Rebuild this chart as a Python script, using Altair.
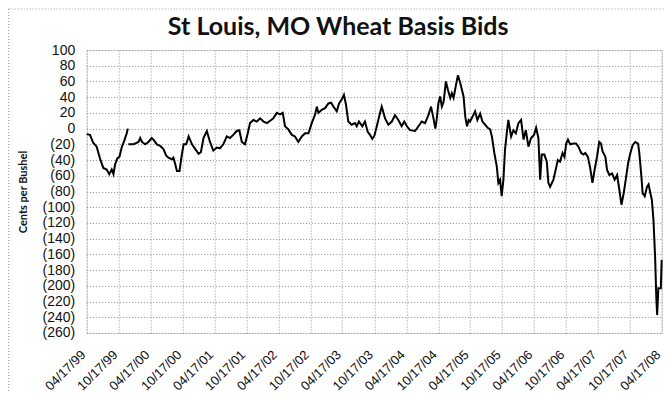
import altair as alt
import pandas as pd

# ---- data ----
seg1_dates = ["1999-04-17", "1999-05-06", "1999-05-24", "1999-06-13", "1999-07-02", "1999-07-21",
              "1999-08-09", "1999-08-24", "1999-09-07", "1999-09-17", "1999-09-26", "1999-10-09",
              "1999-10-21", "1999-11-03", "1999-11-17", "1999-12-02", "1999-12-08"]
seg1_values = [-7, -8, -18, -23, -38, -50, -52, -58, -52, -58, -46, -38, -36, -24, -16, -6, 0]

seg2_dates = [
    "1999-12-11", "2000-01-09", "2000-02-07", "2000-02-17", "2000-02-27", "2000-03-16", "2000-04-04",
    "2000-04-23", "2000-05-06", "2000-05-22", "2000-06-10", "2000-06-29", "2000-07-14", "2000-07-27",
    "2000-08-16", "2000-08-25", "2000-09-04", "2000-09-14", "2000-09-29", "2000-10-08", "2000-10-22",
    "2000-11-06", "2000-11-20", "2000-12-09", "2000-12-28", "2001-01-16", "2001-01-29", "2001-02-13",
    "2001-03-04", "2001-03-22", "2001-04-10", "2001-04-30", "2001-05-18", "2001-06-06", "2001-06-26",
    "2001-07-14", "2001-08-02", "2001-08-22", "2001-09-06", "2001-09-20", "2001-10-08", "2001-10-24",
    "2001-11-06", "2001-11-25", "2001-12-15", "2002-01-03", "2002-01-22", "2002-02-11", "2002-03-01",
    "2002-03-19", "2002-04-08", "2002-04-27", "2002-05-12", "2002-05-25", "2002-06-13", "2002-07-03",
    "2002-07-21", "2002-08-09", "2002-08-29", "2002-09-17", "2002-10-06", "2002-10-25", "2002-11-13",
    "2002-11-23", "2002-12-02", "2002-12-21", "2003-01-09", "2003-01-28", "2003-02-13", "2003-02-26",
    "2003-03-17", "2003-03-30", "2003-04-14", "2003-04-27", "2003-05-09", "2003-05-22", "2003-06-10",
    "2003-06-29", "2003-07-09", "2003-07-22", "2003-08-10", "2003-08-25", "2003-09-10", "2003-09-23",
    "2003-10-06", "2003-10-18", "2003-11-01", "2003-11-16", "2003-11-29", "2003-12-18", "2004-01-06",
    "2004-01-26", "2004-02-13", "2004-03-03", "2004-03-22", "2004-04-06", "2004-04-21", "2004-05-09",
    "2004-06-07", "2004-06-26", "2004-07-15", "2004-08-03", "2004-08-22", "2004-09-06", "2004-09-20",
    "2004-10-01", "2004-10-08", "2004-10-18", "2004-10-28", "2004-11-07", "2004-11-17", "2004-11-30",
    "2004-12-12", "2004-12-25", "2005-01-03", "2005-01-13", "2005-01-27", "2005-02-07", "2005-02-20",
    "2005-03-02", "2005-03-11", "2005-03-21", "2005-03-31", "2005-04-09", "2005-04-17", "2005-05-01",
    "2005-05-16", "2005-05-29", "2005-06-14", "2005-06-27", "2005-07-12", "2005-07-27", "2005-08-10",
    "2005-08-20", "2005-09-03", "2005-09-17", "2005-09-26", "2005-10-06", "2005-10-15", "2005-10-25",
    "2005-11-03", "2005-11-13", "2005-11-22", "2005-12-08", "2005-12-21", "2006-01-04", "2006-01-19",
    "2006-02-03", "2006-02-17", "2006-03-02", "2006-03-17", "2006-04-01", "2006-04-18", "2006-04-30",
    "2006-05-13", "2006-05-23", "2006-06-01", "2006-06-16", "2006-06-30", "2006-07-09", "2006-07-19",
    "2006-08-07", "2006-08-17", "2006-09-01", "2006-09-14", "2006-09-28", "2006-10-09", "2006-10-19",
    "2006-10-29", "2006-11-11", "2006-11-30", "2006-12-14", "2006-12-28", "2007-01-13", "2007-01-26",
    "2007-02-05", "2007-02-20", "2007-03-05", "2007-03-18", "2007-03-30", "2007-04-13", "2007-04-26",
    "2007-05-06", "2007-05-15", "2007-05-31", "2007-06-10", "2007-06-23", "2007-07-08", "2007-07-23",
    "2007-08-06", "2007-08-19", "2007-08-31", "2007-09-13", "2007-09-27", "2007-10-08", "2007-10-21",
    "2007-11-03", "2007-11-18", "2007-12-04", "2007-12-11", "2007-12-23", "2007-12-30", "2008-01-11",
    "2008-01-24", "2008-02-02", "2008-02-12", "2008-02-21", "2008-03-01", "2008-03-11", "2008-03-17",
    "2008-03-22", "2008-03-29", "2008-04-12", "2008-04-17"]
seg2_values = [
    -20, -20, -17, -12, -17, -20, -17,
    -12, -15, -20, -22, -26, -34, -37,
    -39, -37, -45, -54, -54, -39, -20,
    -20, -10, -20, -26, -32, -30, -12,
    -3, -17, -28, -24, -25, -20, -10,
    -12, -8, -3, -2, -17, -20, -6,
    7, 11, 9, 13, 9, 7, 10,
    13, 20, 18, 20, 3, -1, -8,
    -10, -17, -10, -6, -6, 7, 18,
    28, 20, 24, 26, 32, 33, 28,
    22, 32, 37, 43, 30, 9, 5,
    7, 3, 9, 3, 9, -4, -8,
    -13, -9, 3, 17, 28, 13, 5,
    9, 17, 11, 3, 9, 3, -2,
    -3, 3, 9, 7, 17, 28, 13,
    0, 11, 32, 41, 28, 34, 60,
    49, 39, 45, 39, 56, 68, 58,
    49, 41, 15, 3, 11, 9, 15,
    22, 11, 19, 9, 5, 1, -1,
    -10, -31, -48, -69, -65, -86, -65,
    -27, -6, 11, -10, -2, -6, 7,
    11, -14, -2, -23, -12, -8, 1,
    -12, -65, -33, -33, -42, -69, -74,
    -65, -55, -40, -42, -31, -36, -19,
    -14, -20, -19, -19, -23, -31, -33,
    -31, -36, -50, -69, -53, -36, -17,
    -19, -29, -36, -53, -59, -57, -65,
    -59, -78, -97, -82, -61, -44, -31,
    -21, -17, -19, -31, -61, -82, -86,
    -74, -71, -82, -91, -116, -167, -214,
    -237, -203, -203, -167]

y_ticks = list(range(-260, 101, 20))
tick_years = list(range(1999, 2009))

# ---- table ----
rows = []
for d, v in zip(seg1_dates, seg1_values):
    rows.append({"date": d + "T00:00:00", "basis": v, "seg": 1})
for d, v in zip(seg2_dates, seg2_values):
    rows.append({"date": d + "T00:00:00", "basis": v, "seg": 2})
df = pd.DataFrame(rows)

x_ticks = []
for yr in tick_years:
    x_ticks.append(alt.DateTime(year=yr, month=4, date=17))
    if yr < 2008:
        x_ticks.append(alt.DateTime(year=yr, month=10, date=17))

grid_color = "#8c8c8c"

line = alt.Chart(df).mark_line(color="black", strokeWidth=2).encode(
    x=alt.X(
        "date:T",
        scale=alt.Scale(domain=[alt.DateTime(year=1999, month=4, date=17),
                                alt.DateTime(year=2008, month=4, date=17)]),
        axis=alt.Axis(
            values=x_ticks, format="%m/%d/%y", labelAngle=-45, labelAlign="right",
            labelBaseline="top", labelPadding=15, labelOffset=-8, labelFont="Liberation Sans",
            labelFontSize=13, labelColor="#111", ticks=False, domain=False, grid=True,
            gridColor=grid_color, gridDash=[1, 2], gridWidth=1, labelOverlap=False,
            labelBound=False, title=None,
        ),
    ),
    y=alt.Y(
        "basis:Q",
        scale=alt.Scale(domain=[-260, 100], nice=False),
        axis=alt.Axis(
            values=y_ticks,
            labelExpr="datum.value < 0 ? '(' + abs(datum.value) + ')' : '' + datum.value",
            labelFont="Liberation Sans", labelFontSize=14, labelColor="#111", labelPadding=12,
            ticks=False, domain=False, grid=True, gridColor=grid_color, gridDash=[1, 2],
            gridWidth=1, title="Cents per Bushel", titleFont="Lato", titleFontSize=11,
            titleFontWeight="bold", titleColor="#111", titlePadding=14,
        ),
    ),
    detail="seg:N",
)

border = alt.Chart(alt.Data(values=[{}])).mark_rect(
    fillOpacity=0, stroke="#9a9a9a", strokeDash=[1, 2], strokeWidth=1
).encode(
    x=alt.value(-78), x2=alt.value(578), y=alt.value(-41), y2=alt.value(400)
)

chart = alt.layer(border, line).properties(
    width=575,
    height=283,
    padding={"left": 78.7, "top": 42, "right": 2, "bottom": 59},
    autosize=alt.AutoSizeParams(type="none"),
    title=alt.TitleParams(
        "St Louis, MO Wheat Basis Bids", font="Lato", fontSize=25, fontWeight="bold",
        color="#111", anchor="middle", frame="group", dx=-36, offset=0, dy=31,
    ),
).configure_view(strokeWidth=0).configure(background="white")

chart.save("out.html", embed_options={"renderer": "svg", "actions": False})
